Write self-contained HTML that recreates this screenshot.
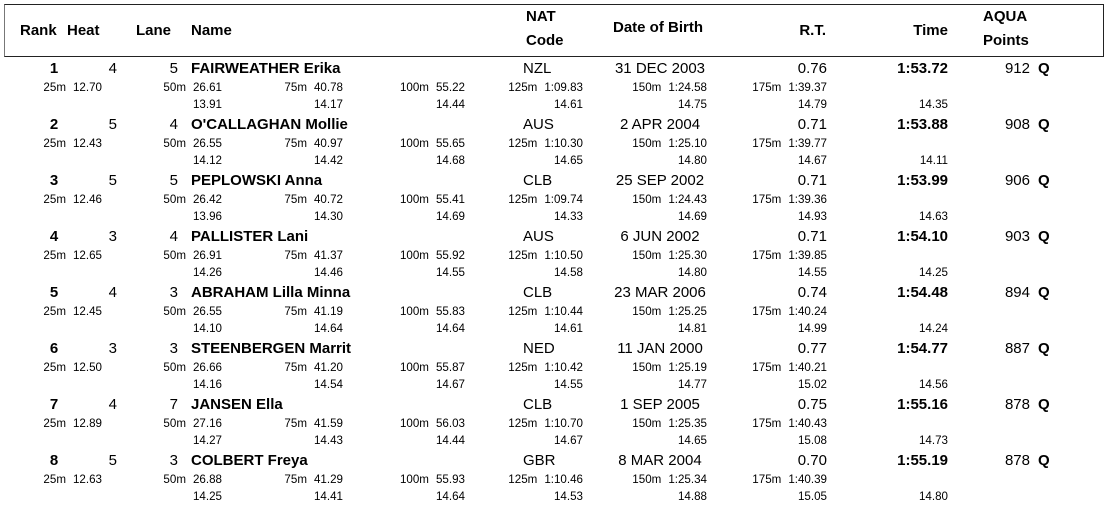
<!DOCTYPE html>
<html><head><meta charset="utf-8"><style>
*{margin:0;padding:0;box-sizing:border-box}
body{width:1106px;height:506px;background:#fff;position:relative;overflow:hidden;font-family:"Liberation Sans",Arial,sans-serif;color:#000}
.hdr{position:absolute;left:4px;top:4px;width:1100px;height:53px;border:1.5px solid #222;border-left-color:#777}
.h{position:absolute;font-weight:bold;font-size:15px;line-height:18px;white-space:nowrap}
.row{position:absolute;left:0;width:1106px;height:56px}
.m{position:absolute;top:0;font-size:15px;line-height:18px;white-space:nowrap}
.b{font-weight:bold}
.s{position:absolute;font-size:11.6px;line-height:13px;white-space:nowrap;text-align:right}
.s1{top:21px}.s2{top:38px}
.l{margin-right:7px}
.r{text-align:right}.c{text-align:center}
</style></head><body>
<div class="hdr"></div>
<div class="h" style="left:20px;top:22px">Rank</div>
<div class="h" style="left:67px;top:22px">Heat</div>
<div class="h" style="left:136px;top:22px">Lane</div>
<div class="h" style="left:191px;top:22px">Name</div>
<div class="h" style="left:526px;top:8px">NAT</div>
<div class="h" style="left:526px;top:32px">Code</div>
<div class="h" style="left:613px;top:19px">Date of Birth</div>
<div class="h" style="left:726px;width:100px;top:22px;text-align:right">R.T.</div>
<div class="h" style="left:848px;width:100px;top:22px;text-align:right">Time</div>
<div class="h" style="left:983px;top:8px">AQUA</div>
<div class="h" style="left:983px;top:32px">Points</div>

<div class="row" style="top:60px">
<div class="m b c" style="left:34px;width:40px">1</div><div class="m r" style="left:67px;width:50px">4</div><div class="m r" style="left:128px;width:50px">5</div><div class="m b" style="left:191px">FAIRWEATHER Erika</div><div class="m" style="left:523px">NZL</div><div class="m c" style="left:580px;width:160px">31 DEC 2003</div><div class="m r" style="left:727px;width:100px">0.76</div><div class="m b r" style="left:848px;width:100px">1:53.72</div><div class="m r" style="left:930px;width:100px">912</div><div class="m b" style="left:1038px">Q</div>
<div class="s s1" style="left:2px;width:100px"><span class="l">25m</span>12.70</div><div class="s s1" style="left:122px;width:100px"><span class="l">50m</span>26.61</div><div class="s s1" style="left:243px;width:100px"><span class="l">75m</span>40.78</div><div class="s s1" style="left:365px;width:100px"><span class="l">100m</span>55.22</div><div class="s s1" style="left:483px;width:100px"><span class="l">125m</span>1:09.83</div><div class="s s1" style="left:607px;width:100px"><span class="l">150m</span>1:24.58</div><div class="s s1" style="left:727px;width:100px"><span class="l">175m</span>1:39.37</div>
<div class="s s2" style="left:122px;width:100px">13.91</div><div class="s s2" style="left:243px;width:100px">14.17</div><div class="s s2" style="left:365px;width:100px">14.44</div><div class="s s2" style="left:483px;width:100px">14.61</div><div class="s s2" style="left:607px;width:100px">14.75</div><div class="s s2" style="left:727px;width:100px">14.79</div><div class="s s2" style="left:848px;width:100px">14.35</div>
</div>

<div class="row" style="top:116px">
<div class="m b c" style="left:34px;width:40px">2</div><div class="m r" style="left:67px;width:50px">5</div><div class="m r" style="left:128px;width:50px">4</div><div class="m b" style="left:191px">O'CALLAGHAN Mollie</div><div class="m" style="left:523px">AUS</div><div class="m c" style="left:580px;width:160px">2 APR 2004</div><div class="m r" style="left:727px;width:100px">0.71</div><div class="m b r" style="left:848px;width:100px">1:53.88</div><div class="m r" style="left:930px;width:100px">908</div><div class="m b" style="left:1038px">Q</div>
<div class="s s1" style="left:2px;width:100px"><span class="l">25m</span>12.43</div><div class="s s1" style="left:122px;width:100px"><span class="l">50m</span>26.55</div><div class="s s1" style="left:243px;width:100px"><span class="l">75m</span>40.97</div><div class="s s1" style="left:365px;width:100px"><span class="l">100m</span>55.65</div><div class="s s1" style="left:483px;width:100px"><span class="l">125m</span>1:10.30</div><div class="s s1" style="left:607px;width:100px"><span class="l">150m</span>1:25.10</div><div class="s s1" style="left:727px;width:100px"><span class="l">175m</span>1:39.77</div>
<div class="s s2" style="left:122px;width:100px">14.12</div><div class="s s2" style="left:243px;width:100px">14.42</div><div class="s s2" style="left:365px;width:100px">14.68</div><div class="s s2" style="left:483px;width:100px">14.65</div><div class="s s2" style="left:607px;width:100px">14.80</div><div class="s s2" style="left:727px;width:100px">14.67</div><div class="s s2" style="left:848px;width:100px">14.11</div>
</div>

<div class="row" style="top:172px">
<div class="m b c" style="left:34px;width:40px">3</div><div class="m r" style="left:67px;width:50px">5</div><div class="m r" style="left:128px;width:50px">5</div><div class="m b" style="left:191px">PEPLOWSKI Anna</div><div class="m" style="left:523px">CLB</div><div class="m c" style="left:580px;width:160px">25 SEP 2002</div><div class="m r" style="left:727px;width:100px">0.71</div><div class="m b r" style="left:848px;width:100px">1:53.99</div><div class="m r" style="left:930px;width:100px">906</div><div class="m b" style="left:1038px">Q</div>
<div class="s s1" style="left:2px;width:100px"><span class="l">25m</span>12.46</div><div class="s s1" style="left:122px;width:100px"><span class="l">50m</span>26.42</div><div class="s s1" style="left:243px;width:100px"><span class="l">75m</span>40.72</div><div class="s s1" style="left:365px;width:100px"><span class="l">100m</span>55.41</div><div class="s s1" style="left:483px;width:100px"><span class="l">125m</span>1:09.74</div><div class="s s1" style="left:607px;width:100px"><span class="l">150m</span>1:24.43</div><div class="s s1" style="left:727px;width:100px"><span class="l">175m</span>1:39.36</div>
<div class="s s2" style="left:122px;width:100px">13.96</div><div class="s s2" style="left:243px;width:100px">14.30</div><div class="s s2" style="left:365px;width:100px">14.69</div><div class="s s2" style="left:483px;width:100px">14.33</div><div class="s s2" style="left:607px;width:100px">14.69</div><div class="s s2" style="left:727px;width:100px">14.93</div><div class="s s2" style="left:848px;width:100px">14.63</div>
</div>

<div class="row" style="top:228px">
<div class="m b c" style="left:34px;width:40px">4</div><div class="m r" style="left:67px;width:50px">3</div><div class="m r" style="left:128px;width:50px">4</div><div class="m b" style="left:191px">PALLISTER Lani</div><div class="m" style="left:523px">AUS</div><div class="m c" style="left:580px;width:160px">6 JUN 2002</div><div class="m r" style="left:727px;width:100px">0.71</div><div class="m b r" style="left:848px;width:100px">1:54.10</div><div class="m r" style="left:930px;width:100px">903</div><div class="m b" style="left:1038px">Q</div>
<div class="s s1" style="left:2px;width:100px"><span class="l">25m</span>12.65</div><div class="s s1" style="left:122px;width:100px"><span class="l">50m</span>26.91</div><div class="s s1" style="left:243px;width:100px"><span class="l">75m</span>41.37</div><div class="s s1" style="left:365px;width:100px"><span class="l">100m</span>55.92</div><div class="s s1" style="left:483px;width:100px"><span class="l">125m</span>1:10.50</div><div class="s s1" style="left:607px;width:100px"><span class="l">150m</span>1:25.30</div><div class="s s1" style="left:727px;width:100px"><span class="l">175m</span>1:39.85</div>
<div class="s s2" style="left:122px;width:100px">14.26</div><div class="s s2" style="left:243px;width:100px">14.46</div><div class="s s2" style="left:365px;width:100px">14.55</div><div class="s s2" style="left:483px;width:100px">14.58</div><div class="s s2" style="left:607px;width:100px">14.80</div><div class="s s2" style="left:727px;width:100px">14.55</div><div class="s s2" style="left:848px;width:100px">14.25</div>
</div>

<div class="row" style="top:284px">
<div class="m b c" style="left:34px;width:40px">5</div><div class="m r" style="left:67px;width:50px">4</div><div class="m r" style="left:128px;width:50px">3</div><div class="m b" style="left:191px">ABRAHAM Lilla Minna</div><div class="m" style="left:523px">CLB</div><div class="m c" style="left:580px;width:160px">23 MAR 2006</div><div class="m r" style="left:727px;width:100px">0.74</div><div class="m b r" style="left:848px;width:100px">1:54.48</div><div class="m r" style="left:930px;width:100px">894</div><div class="m b" style="left:1038px">Q</div>
<div class="s s1" style="left:2px;width:100px"><span class="l">25m</span>12.45</div><div class="s s1" style="left:122px;width:100px"><span class="l">50m</span>26.55</div><div class="s s1" style="left:243px;width:100px"><span class="l">75m</span>41.19</div><div class="s s1" style="left:365px;width:100px"><span class="l">100m</span>55.83</div><div class="s s1" style="left:483px;width:100px"><span class="l">125m</span>1:10.44</div><div class="s s1" style="left:607px;width:100px"><span class="l">150m</span>1:25.25</div><div class="s s1" style="left:727px;width:100px"><span class="l">175m</span>1:40.24</div>
<div class="s s2" style="left:122px;width:100px">14.10</div><div class="s s2" style="left:243px;width:100px">14.64</div><div class="s s2" style="left:365px;width:100px">14.64</div><div class="s s2" style="left:483px;width:100px">14.61</div><div class="s s2" style="left:607px;width:100px">14.81</div><div class="s s2" style="left:727px;width:100px">14.99</div><div class="s s2" style="left:848px;width:100px">14.24</div>
</div>

<div class="row" style="top:340px">
<div class="m b c" style="left:34px;width:40px">6</div><div class="m r" style="left:67px;width:50px">3</div><div class="m r" style="left:128px;width:50px">3</div><div class="m b" style="left:191px">STEENBERGEN Marrit</div><div class="m" style="left:523px">NED</div><div class="m c" style="left:580px;width:160px">11 JAN 2000</div><div class="m r" style="left:727px;width:100px">0.77</div><div class="m b r" style="left:848px;width:100px">1:54.77</div><div class="m r" style="left:930px;width:100px">887</div><div class="m b" style="left:1038px">Q</div>
<div class="s s1" style="left:2px;width:100px"><span class="l">25m</span>12.50</div><div class="s s1" style="left:122px;width:100px"><span class="l">50m</span>26.66</div><div class="s s1" style="left:243px;width:100px"><span class="l">75m</span>41.20</div><div class="s s1" style="left:365px;width:100px"><span class="l">100m</span>55.87</div><div class="s s1" style="left:483px;width:100px"><span class="l">125m</span>1:10.42</div><div class="s s1" style="left:607px;width:100px"><span class="l">150m</span>1:25.19</div><div class="s s1" style="left:727px;width:100px"><span class="l">175m</span>1:40.21</div>
<div class="s s2" style="left:122px;width:100px">14.16</div><div class="s s2" style="left:243px;width:100px">14.54</div><div class="s s2" style="left:365px;width:100px">14.67</div><div class="s s2" style="left:483px;width:100px">14.55</div><div class="s s2" style="left:607px;width:100px">14.77</div><div class="s s2" style="left:727px;width:100px">15.02</div><div class="s s2" style="left:848px;width:100px">14.56</div>
</div>

<div class="row" style="top:396px">
<div class="m b c" style="left:34px;width:40px">7</div><div class="m r" style="left:67px;width:50px">4</div><div class="m r" style="left:128px;width:50px">7</div><div class="m b" style="left:191px">JANSEN Ella</div><div class="m" style="left:523px">CLB</div><div class="m c" style="left:580px;width:160px">1 SEP 2005</div><div class="m r" style="left:727px;width:100px">0.75</div><div class="m b r" style="left:848px;width:100px">1:55.16</div><div class="m r" style="left:930px;width:100px">878</div><div class="m b" style="left:1038px">Q</div>
<div class="s s1" style="left:2px;width:100px"><span class="l">25m</span>12.89</div><div class="s s1" style="left:122px;width:100px"><span class="l">50m</span>27.16</div><div class="s s1" style="left:243px;width:100px"><span class="l">75m</span>41.59</div><div class="s s1" style="left:365px;width:100px"><span class="l">100m</span>56.03</div><div class="s s1" style="left:483px;width:100px"><span class="l">125m</span>1:10.70</div><div class="s s1" style="left:607px;width:100px"><span class="l">150m</span>1:25.35</div><div class="s s1" style="left:727px;width:100px"><span class="l">175m</span>1:40.43</div>
<div class="s s2" style="left:122px;width:100px">14.27</div><div class="s s2" style="left:243px;width:100px">14.43</div><div class="s s2" style="left:365px;width:100px">14.44</div><div class="s s2" style="left:483px;width:100px">14.67</div><div class="s s2" style="left:607px;width:100px">14.65</div><div class="s s2" style="left:727px;width:100px">15.08</div><div class="s s2" style="left:848px;width:100px">14.73</div>
</div>

<div class="row" style="top:452px">
<div class="m b c" style="left:34px;width:40px">8</div><div class="m r" style="left:67px;width:50px">5</div><div class="m r" style="left:128px;width:50px">3</div><div class="m b" style="left:191px">COLBERT Freya</div><div class="m" style="left:523px">GBR</div><div class="m c" style="left:580px;width:160px">8 MAR 2004</div><div class="m r" style="left:727px;width:100px">0.70</div><div class="m b r" style="left:848px;width:100px">1:55.19</div><div class="m r" style="left:930px;width:100px">878</div><div class="m b" style="left:1038px">Q</div>
<div class="s s1" style="left:2px;width:100px"><span class="l">25m</span>12.63</div><div class="s s1" style="left:122px;width:100px"><span class="l">50m</span>26.88</div><div class="s s1" style="left:243px;width:100px"><span class="l">75m</span>41.29</div><div class="s s1" style="left:365px;width:100px"><span class="l">100m</span>55.93</div><div class="s s1" style="left:483px;width:100px"><span class="l">125m</span>1:10.46</div><div class="s s1" style="left:607px;width:100px"><span class="l">150m</span>1:25.34</div><div class="s s1" style="left:727px;width:100px"><span class="l">175m</span>1:40.39</div>
<div class="s s2" style="left:122px;width:100px">14.25</div><div class="s s2" style="left:243px;width:100px">14.41</div><div class="s s2" style="left:365px;width:100px">14.64</div><div class="s s2" style="left:483px;width:100px">14.53</div><div class="s s2" style="left:607px;width:100px">14.88</div><div class="s s2" style="left:727px;width:100px">15.05</div><div class="s s2" style="left:848px;width:100px">14.80</div>
</div>
</body></html>
